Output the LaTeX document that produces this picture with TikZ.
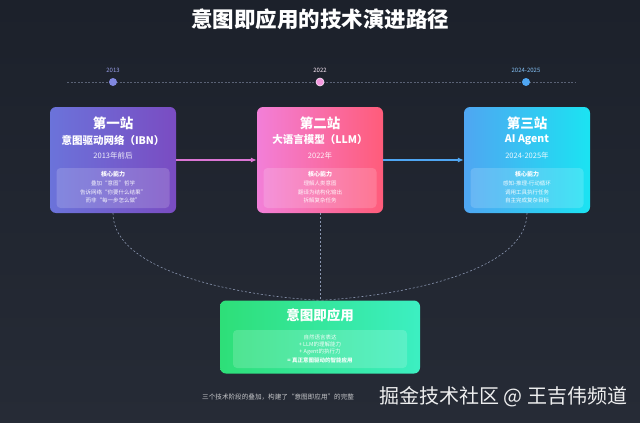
\documentclass[tikz,border=0pt]{standalone}
\usepackage{fontspec}
\setmainfont{Noto Sans CJK SC}
\usetikzlibrary{arrows.meta}
\definecolor{bgtop}{HTML}{1C212B}
\definecolor{bgbot}{HTML}{262B36}
\definecolor{aL}{HTML}{6B73DA}
\definecolor{aR}{HTML}{7A4CC2}
\definecolor{bL}{HTML}{F27FD8}
\definecolor{bR}{HTML}{FF5C7A}
\definecolor{cL}{HTML}{4FA6F2}
\definecolor{cR}{HTML}{1BE3F2}
\definecolor{gL}{HTML}{2EDF78}
\definecolor{gR}{HTML}{3CEFC2}
\definecolor{dashc}{HTML}{8A96B0}
\definecolor{tl}{HTML}{5A6275}
\tikzset{
  stationbox/.style={rounded corners=6pt, minimum width=126pt, minimum height=106pt, inner sep=0pt},
  innerbox/.style={rounded corners=4pt, fill=white, fill opacity=0.16, draw=none, minimum width=113pt, minimum height=40pt, inner sep=0pt},
  sttitle/.style={text=white, font=\bfseries\fontsize{13.5}{15}\selectfont, inner sep=0pt},
  stname/.style={text=white, font=\bfseries\fontsize{10.5}{12}\selectfont, inner sep=0pt},
  styear/.style={text=white, text opacity=0.9, font=\fontsize{7.5}{9}\selectfont, inner sep=0pt},
  corehead/.style={text=white, font=\bfseries\fontsize{6}{7}\selectfont, inner sep=0pt},
  coreline/.style={text=white, text opacity=0.92, font=\fontsize{5.5}{7}\selectfont, inner sep=0pt},
  tdot/.style={circle, minimum size=8pt, inner sep=0pt},
  tlabel/.style={font=\fontsize{6}{7}\selectfont, inner sep=0pt},
  dashcurve/.style={draw=dashc, dashed, dash pattern=on 2pt off 2pt, line width=0.6pt},
}
\begin{document}
\begin{tikzpicture}[x=1pt,y=-1pt]
\useasboundingbox (0,0) rectangle (640,423);
\shade[top color=bgtop, bottom color=bgbot] (0,0) rectangle (640,423);

% title
\node[text=white, font=\bfseries\fontsize{21.5}{24}\selectfont, inner sep=0pt] (title) at (320,19) {意图即应用的技术演进路径};

% timeline
\coordinate (tlA) at (67,82);
\coordinate (tlB) at (576,82);
\draw[tl, dashed, dash pattern=on 2pt off 1.5pt, line width=0.7pt] (tlA) -- (tlB);
\node[tdot, fill=aL!85!white] (d1) at (113,82) {};
\node[tdot, fill=bL!80!white, draw=white!80!bL, line width=0.6pt] (d2) at (320,82) {};
\node[tdot, fill=cL] (d3) at (526,82) {};
\node[tlabel, text=aL!70!white] (y1) at (113,70) {2013};
\node[tlabel, text=white!85!bL] (y2) at (320,70) {2022};
\node[tlabel, text=cL!70!white] (y3) at (526,70) {2024-2025};

% station 1
\node[stationbox, left color=aL, right color=aR] (s1) at (113,160) {};
\node[sttitle] (s1t) at (113,123) {第一站};
\node[stname] (s1n) at (113,140) {意图驱动网络（IBN）};
\node[styear] (s1y) at (113,156) {2013年前后};
\node[innerbox] (s1i) at (113,188) {};
\node[corehead] (s1h) at (113,174) {核心能力};
\node[coreline] (s1a) at (113,183) {叠加“意图”哲学};
\node[coreline] (s1b) at (113,192) {告诉网络“你要什么结果”};
\node[coreline] (s1c) at (113,200) {而非“每一步怎么做”};

% station 2
\node[stationbox, left color=bL, right color=bR] (s2) at (320,160) {};
\node[sttitle] (s2t) at (320,123) {第二站};
\node[stname] (s2n) at (320,140) {大语言模型（LLM）};
\node[styear] (s2y) at (320,156) {2022年};
\node[innerbox] (s2i) at (320,188) {};
\node[corehead] (s2h) at (320,174) {核心能力};
\node[coreline] (s2a) at (320,183) {理解人类意图};
\node[coreline] (s2b) at (320,192) {翻译为结构化输出};
\node[coreline] (s2c) at (320,200) {拆解复杂任务};

% station 3
\node[stationbox, left color=cL, right color=cR] (s3) at (527,160) {};
\node[sttitle] (s3t) at (527,123) {第三站};
\node[stname] (s3n) at (527,140) {AI Agent};
\node[styear] (s3y) at (527,156) {2024-2025年};
\node[innerbox] (s3i) at (527,188) {};
\node[corehead] (s3h) at (527,174) {核心能力};
\node[coreline] (s3a) at (527,183) {感知-推理-行动循环};
\node[coreline] (s3b) at (527,192) {调用工具执行任务};
\node[coreline] (s3c) at (527,200) {自主完成复杂目标};

% arrows
\draw[-{Latex[length=6pt,width=5pt]}, draw=bL!80!aR, line width=1.3pt] (s1.east) -- (s2.west);
\draw[-{Latex[length=6pt,width=5pt]}, draw=cL, line width=1.3pt] (s2.east) -- (s3.west);

% bottom box
\node[rounded corners=6pt, left color=gL, right color=gR, minimum width=200pt, minimum height=73pt, inner sep=0pt] (g) at (320,337) {};
\node[sttitle] (gt) at (320,315) {意图即应用};
\node[innerbox, minimum width=174pt, minimum height=38pt] (gi) at (320,349) {};
\node[coreline] (ga) at (320,337) {自然语言表达};
\node[coreline] (gb) at (320,344.5) {+ LLM的理解能力};
\node[coreline] (gc) at (320,352) {+ Agent的执行力};
\node[coreline, font=\bfseries\fontsize{5.5}{7}\selectfont] (gd) at (320,360) {= 真正意图驱动的智能应用};

% dashed connectors
\draw[dashcurve] (s1.south) .. controls (113,272) and (240,296) .. (g.north);
\draw[dashcurve] (s2.south) -- (g.north);
\draw[dashcurve] (s3.south) .. controls (527,272) and (400,296) .. (g.north);

% caption and watermark
\node[anchor=west, text=white!75!bgtop, font=\fontsize{6.6}{8}\selectfont, inner sep=0pt] (cap) at (202,397) {三个技术阶段的叠加，构建了“意图即应用”的完整};
\node[anchor=west, text=white, text opacity=0.92, font=\fontsize{20}{23}\selectfont, inner sep=0pt] (wm) at (379,397) {掘金技术社区 @ 王吉伟频道};
\end{tikzpicture}
\end{document}
